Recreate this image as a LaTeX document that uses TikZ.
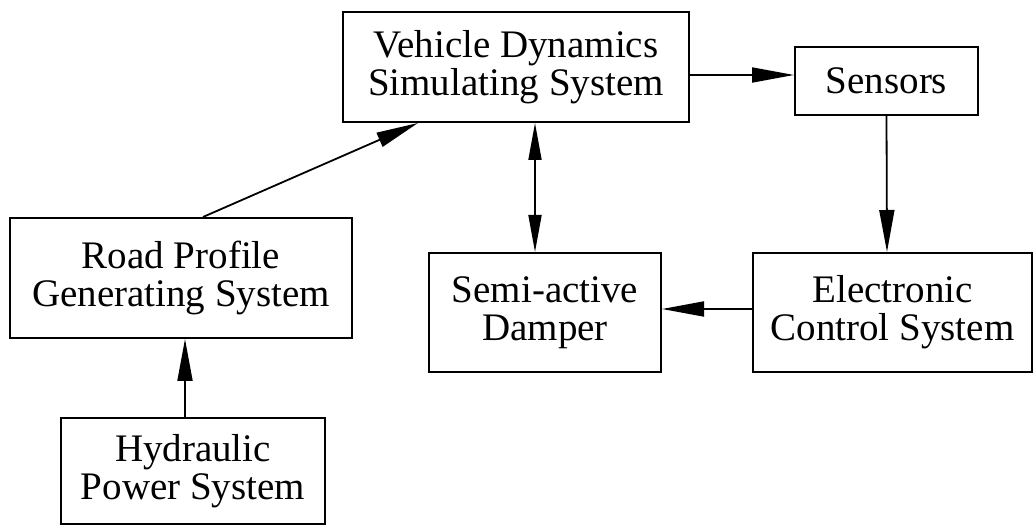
\documentclass[tikz,border=0pt]{standalone}
\usepackage{fontspec}
\setmainfont{Liberation Serif}
\usetikzlibrary{arrows.meta}
\begin{document}
\begin{tikzpicture}[x=1pt,y=-1pt,
  box/.style={draw, line width=2pt, align=center, inner sep=0pt,
    font=\fontsize{39}{38}\selectfont},
  arr/.style={line width=1.8pt, -{Triangle[length=42pt,width=15pt]}},
  darr/.style={line width=1.8pt, {Triangle[length=37pt,width=13pt]}-{Triangle[length=37pt,width=13pt]}}]
\useasboundingbox (0,0) rectangle (1034,526);

% blocks
\node[box, minimum width=346pt, minimum height=110pt] (vd) at (516,67)
  {Vehicle Dynamics\\Simulating System};
\node[box, minimum width=183pt, minimum height=68pt] (sen) at (886.5,81) {Sensors};
\node[box, minimum width=342pt, minimum height=120pt] (rp) at (181,278)
  {Road Profile\\Generating System};
\node[box, minimum width=232pt, minimum height=119pt] (sad) at (545,312.5)
  {Semi-active\\Damper};
\node[box, minimum width=279pt, minimum height=119pt] (ecs) at (892.5,312.5)
  {Electronic\\Control System};
\node[box, minimum width=264pt, minimum height=106pt] (hyd) at (193,471)
  {Hydraulic\\Power System};

% connectors
\draw[arr] ([xshift=-8pt]hyd.north) -- ([xshift=4pt]rp.south);
\draw[arr] ([xshift=22pt]rp.north) -- ([xshift=-98pt]vd.south);
\draw[arr] ([yshift=-8pt]vd.east) -- ([yshift=6pt]sen.west);
\draw[darr] ([xshift=19pt]vd.south) -- ([xshift=-10pt]sad.north);
\draw[arr] (sen.south) -- ([xshift=-5.5pt]ecs.north);
\draw[arr] ([yshift=3.5pt]ecs.west) -- ([yshift=3.5pt]sad.east);
\end{tikzpicture}
\end{document}
